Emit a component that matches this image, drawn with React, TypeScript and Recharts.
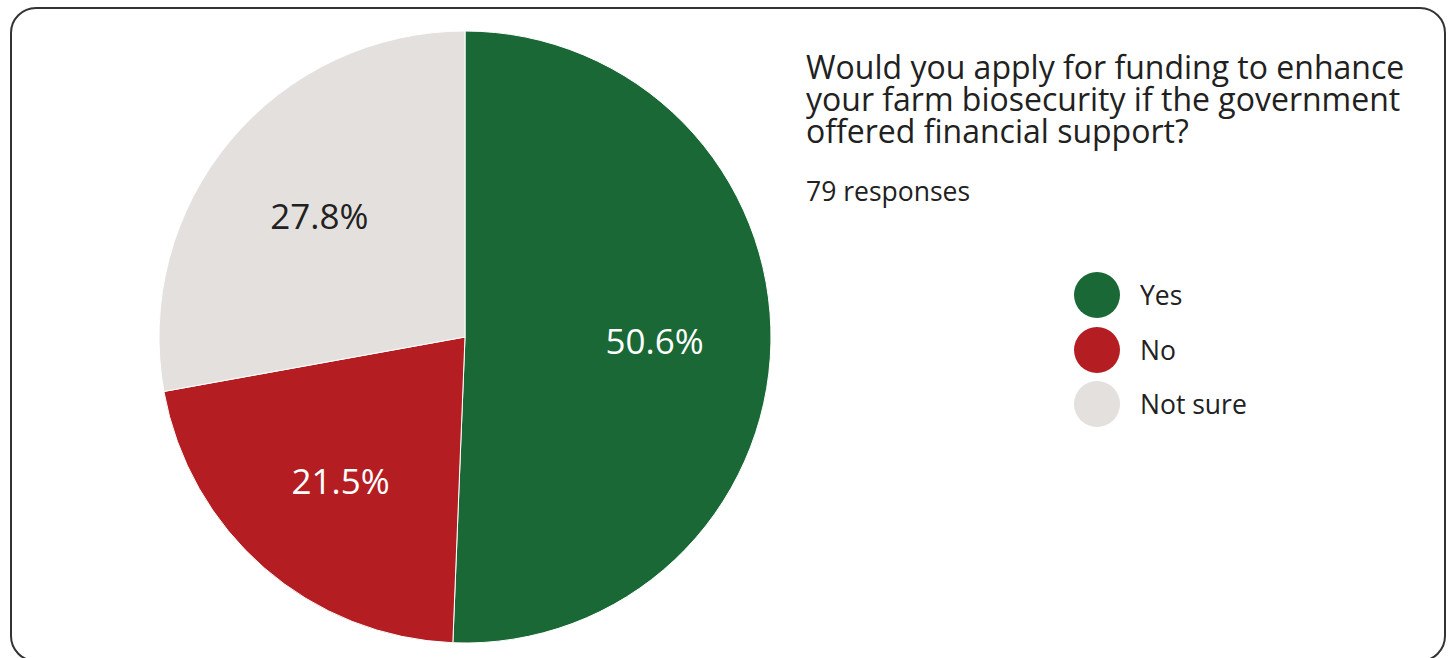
import { PieChart, Pie, Cell, Legend } from 'recharts';

const categories = ['Yes', 'No', 'Not sure'];
const responses = [40, 17, 22];
const colors = ['#1a6836', '#b41e23', '#e3e0de'];
const labelColors = ['#ffffff', '#ffffff', '#212121'];

const title = 'Would you apply for funding to enhance your farm biosecurity if the government offered financial support?';
const totalResponses = 79;

const data = categories.map((name, i) => ({ name, value: responses[i] }));

const FONT = '"Open Sans", "Noto Sans", sans-serif';
const RADIAN = Math.PI / 180;

const renderLabel = (props: any) => {
  const { cx, cy, midAngle, outerRadius, percent, index } = props;
  const r = outerRadius * 0.62;
  const x = cx + r * Math.cos(-midAngle * RADIAN);
  const y = cy + r * Math.sin(-midAngle * RADIAN);
  return (
    <text
      x={x}
      y={y}
      fill={labelColors[index]}
      textAnchor="middle"
      dominantBaseline="central"
      fontFamily={FONT}
      fontSize={35}
    >
      {(percent * 100).toFixed(1)}%
    </text>
  );
};

// legend kept in the original category order
const renderLegend = () => (
  <div style={{ fontFamily: FONT }}>
    {categories.map((name, i) => (
      <div key={name} style={{ display: 'flex', alignItems: 'center', height: 54.5 }}>
        <span
          style={{
            display: 'inline-block',
            width: 46,
            height: 46,
            borderRadius: '50%',
            background: colors[i],
            marginRight: 20,
          }}
        />
        <span style={{ fontSize: 26.5, color: '#212121' }}>{name}</span>
      </div>
    ))}
  </div>
);

export default function App() {
  return (
    <div style={{ position: 'absolute', left: 0, top: 0, width: 1454, height: 658, background: '#fff', overflow: 'hidden' }}>
      <div
        style={{
          position: 'absolute',
          left: 10,
          top: 7,
          width: 1432,
          height: 651,
          border: '2px solid #333',
          borderRadius: 26,
        }}
      />
      <div
        style={{
          position: 'absolute',
          left: 806,
          top: 51,
          width: 640,
          fontFamily: FONT,
          fontSize: 32,
          lineHeight: '32px',
          color: '#212121',
        }}
      >
        {title}
      </div>
      <div
        style={{
          position: 'absolute',
          left: 806,
          top: 173,
          fontFamily: FONT,
          fontSize: 26.5,
          color: '#212121',
        }}
      >
        {totalResponses} responses
      </div>
      <div style={{ position: 'absolute', left: 0, top: 0 }}>
        <PieChart width={1454} height={658} margin={{ top: 0, right: 0, bottom: 0, left: 0 }}>
          <Pie
            data={data}
            dataKey="value"
            nameKey="name"
            cx={465}
            cy={337}
            outerRadius={306}
            startAngle={90}
            endAngle={-270}
            stroke="#ffffff"
            strokeWidth={1}
            label={renderLabel}
            labelLine={false}
            isAnimationActive={false}
          >
            {data.map((d, i) => (
              <Cell key={d.name} fill={colors[i]} />
            ))}
          </Pie>
          <Legend
            layout="vertical"
            content={renderLegend}
            wrapperStyle={{ left: 1074, top: 268, width: 300 }}
          />
        </PieChart>
      </div>
    </div>
  );
}
